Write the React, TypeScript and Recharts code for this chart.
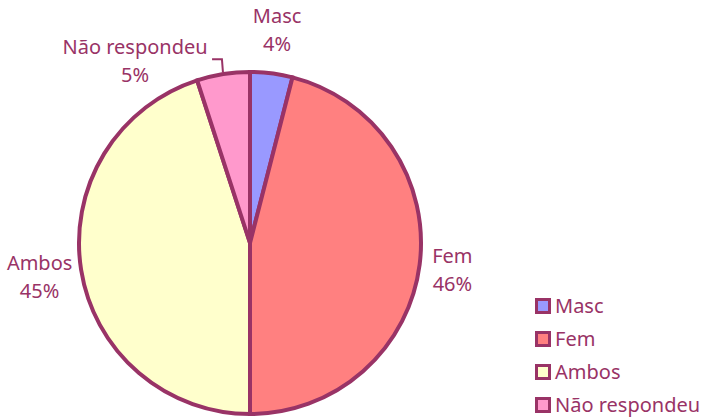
import React from 'react';
import { PieChart, Pie, Cell, Legend } from 'recharts';

const categories = ['Masc', 'Fem', 'Ambos', 'Não respondeu'];
const percents = [4, 46, 45, 5];

const COLORS: Record<string, string> = {
  'Masc': '#9999FF',
  'Fem': '#FF8080',
  'Ambos': '#FFFFCC',
  'Não respondeu': '#FF99CC',
};

const INK = '#993366';
const FONT = '"Noto Sans", Tahoma, sans-serif';
const RADIAN = Math.PI / 180;

// radial distance past the rim + sideways nudge, per label
const LABEL_TWEAK: Record<string, { dr: number; dx: number }> = {
  'Masc': { dr: 45, dx: 0 },
  'Fem': { dr: 33, dx: 0 },
  'Ambos': { dr: 42, dx: 0 },
  'Não respondeu': { dr: 14, dx: -86 },
};

const data = categories.map((name, i) => ({ name, value: percents[i] }));

const polar = (cx: number, cy: number, r: number, angle: number) => ({
  x: cx + r * Math.cos(-angle * RADIAN),
  y: cy + r * Math.sin(-angle * RADIAN),
});

const renderLabel = (props: any) => {
  const { cx, cy, midAngle, outerRadius, name, value } = props;
  const t = LABEL_TWEAK[name] || { dr: 40, dx: 0 };
  const p = polar(cx, cy, outerRadius + t.dr, midAngle);
  const x = p.x + t.dx;
  const edge = polar(cx, cy, outerRadius + 2, midAngle);
  return (
    <g>
      {t.dx !== 0 && (
        <polyline
          points={`${edge.x},${edge.y} ${edge.x - 1},${p.y - 1} ${x + 77},${p.y - 1}`}
          fill="none"
          stroke={INK}
          strokeWidth={2}
        />
      )}
      <text x={x} y={p.y - 6} textAnchor="middle" fill={INK} fontSize={20} fontFamily={FONT}>
        {name}
      </text>
      <text x={x} y={p.y + 22} textAnchor="middle" fill={INK} fontSize={20} fontFamily={FONT}>
        {`${value}%`}
      </text>
    </g>
  );
};

const renderLegend = () => (
  <div style={{ fontFamily: FONT, fontSize: 20, color: INK }}>
    {categories.map((name) => (
      <div key={name} style={{ display: 'flex', alignItems: 'center', height: 33 }}>
        <span
          style={{
            display: 'inline-block',
            width: 10,
            height: 10,
            border: `3.5px solid ${INK}`,
            background: COLORS[name],
            marginRight: 4,
          }}
        />
        <span>{name}</span>
      </div>
    ))}
  </div>
);

export default function App() {
  return (
    <div style={{ position: 'absolute', left: 0, top: 0, background: '#fff' }}>
      <PieChart width={704} height={417} margin={{ top: 0, right: 0, bottom: 0, left: 0 }}>
        <Pie
          data={data}
          dataKey="value"
          nameKey="name"
          cx={250}
          cy={243}
          outerRadius={171}
          startAngle={90}
          endAngle={-270}
          stroke={INK}
          strokeWidth={4}
          label={renderLabel}
          labelLine={false}
          isAnimationActive={false}
        >
          {data.map((d) => (
            <Cell key={d.name} fill={COLORS[d.name]} />
          ))}
        </Pie>
        <Legend
          content={renderLegend}
          wrapperStyle={{ position: 'absolute', left: 535, top: 289, width: 170 }}
        />
      </PieChart>
    </div>
  );
}
